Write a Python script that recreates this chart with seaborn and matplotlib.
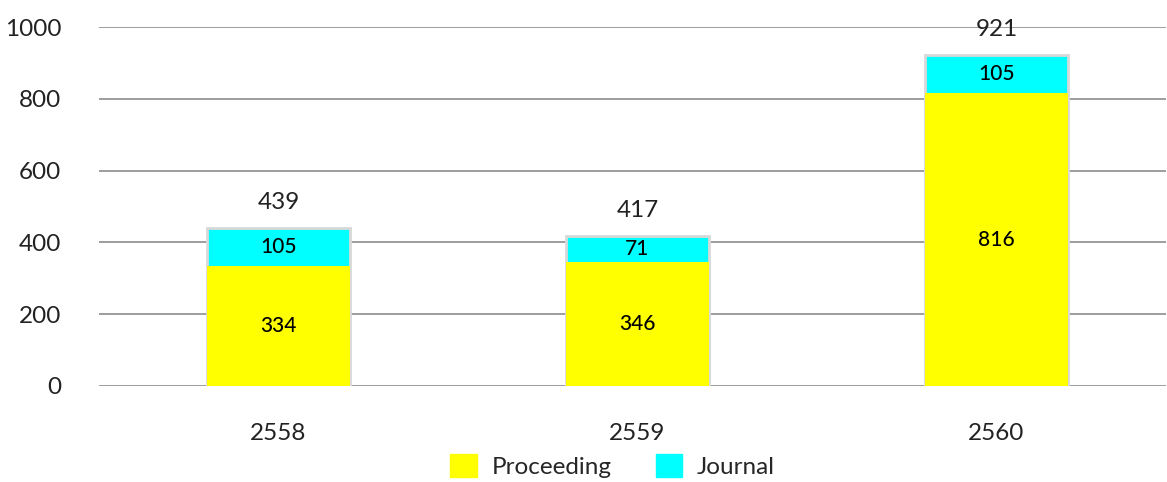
import matplotlib.pyplot as plt
import seaborn as sns
import pandas as pd

years = ['2558', '2559', '2560']
proceeding = [334, 346, 816]
journal = [105, 71, 105]
totals = [p + j for p, j in zip(proceeding, journal)]

df = pd.DataFrame({'year': years, 'Proceeding': proceeding, 'Journal': journal, 'total': totals})

sns.set_theme(style='white')
plt.rcParams['font.family'] = ['Lato', 'DejaVu Sans']

fig = plt.figure(figsize=(11.67, 4.82), dpi=100)
ax = fig.add_axes([99 / 1167, 96 / 482, 1067 / 1167, 359 / 482])

# total bar in cyan, proceeding bar on top of it
sns.barplot(data=df, x='year', y='total', color='#00ffff', saturation=1, width=0.4,
            ax=ax, edgecolor='#d8d8d8', linewidth=2, zorder=3)
sns.barplot(data=df, x='year', y='Proceeding', color='#ffff00', saturation=1, width=0.4,
            ax=ax, linewidth=0, zorder=4)

for i in range(len(years)):
    ax.text(i, proceeding[i] / 2, str(proceeding[i]), ha='center', va='center',
            fontsize=15, fontweight='medium', color='black', zorder=5)
    ax.text(i, proceeding[i] + journal[i] / 2, str(journal[i]), ha='center', va='center',
            fontsize=15, fontweight='medium', color='black', zorder=5)
    ax.text(i, totals[i] + 42, str(totals[i]), ha='center', va='bottom',
            fontsize=17.5, color='#222222', zorder=5)

ax.set_ylim(0, 1000)
ax.set_xlim(-0.5, 2.472)
ax.set_yticks([0, 200, 400, 600, 800, 1000])
ax.yaxis.grid(True, color='#8c8c8c', linewidth=1.2)
ax.set_axisbelow(True)
for s in ax.spines.values():
    s.set_visible(False)
ax.tick_params(axis='y', labelsize=17.5, labelcolor='#222222', length=0, pad=27)
ax.tick_params(axis='x', labelsize=17.5, labelcolor='#222222', length=0, pad=27)
ax.set_xlabel('')
ax.set_ylabel('')

handles = [plt.Rectangle((0, 0), 1, 1, color='#ffff00'), plt.Rectangle((0, 0), 1, 1, color='#00ffff')]
fig.legend(handles, ['Proceeding', 'Journal'], loc='center', bbox_to_anchor=(0.525, 0.033),
           ncol=2, frameon=False, fontsize=17.5, handlelength=1.1, handleheight=1.1,
           columnspacing=1.8, handletextpad=0.6, borderpad=0)

fig.savefig('out.png', dpi=100)
